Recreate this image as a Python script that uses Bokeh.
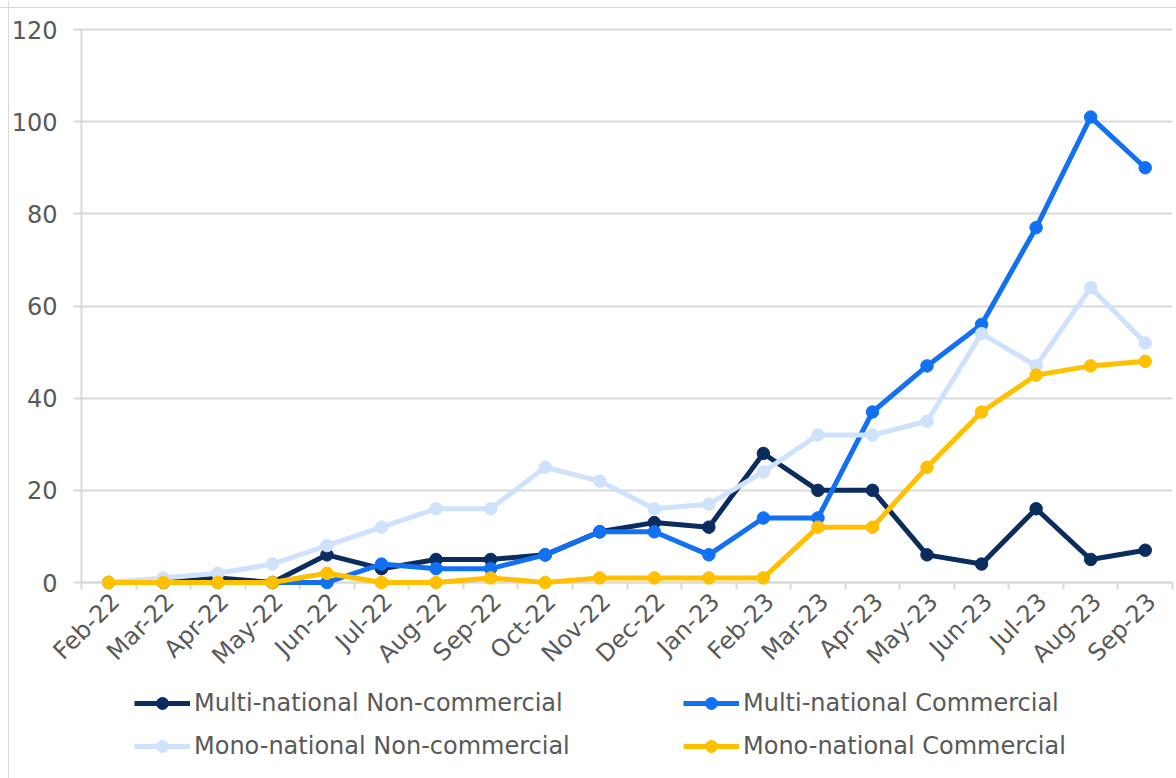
import math
from bokeh.plotting import figure
from bokeh.models import Range1d, FixedTicker, Legend, LegendItem, Span
from bokeh.embed import file_html
from bokeh.resources import INLINE

months = ["Feb-22", "Mar-22", "Apr-22", "May-22", "Jun-22", "Jul-22", "Aug-22", "Sep-22",
          "Oct-22", "Nov-22", "Dec-22", "Jan-23", "Feb-23", "Mar-23", "Apr-23", "May-23",
          "Jun-23", "Jul-23", "Aug-23", "Sep-23"]
multi_noncommercial = [0, 0, 1, 0, 6, 3, 5, 5, 6, 11, 13, 12, 28, 20, 20, 6, 4, 16, 5, 7]
multi_commercial = [0, 0, 0, 0, 0, 4, 3, 3, 6, 11, 11, 6, 14, 14, 37, 47, 56, 77, 101, 90]
mono_noncommercial = [0, 1, 2, 4, 8, 12, 16, 16, 25, 22, 16, 17, 24, 32, 32, 35, 54, 47, 64, 52]
mono_commercial = [0, 0, 0, 0, 2, 0, 0, 1, 0, 1, 1, 1, 1, 12, 12, 25, 37, 45, 47, 48]
y_ticks = [0, 20, 40, 60, 80, 100, 120]

series = [
    ("Multi-national Non-commercial", multi_noncommercial, "#0B2C5E"),
    ("Multi-national Commercial", multi_commercial, "#1271F2"),
    ("Mono-national Non-commercial", mono_noncommercial, "#CFE2FB"),
    ("Mono-national Commercial", mono_commercial, "#FFC000"),
]

FONT = "DejaVu Sans"
TEXT = "#595959"
GRID = "#d9d9d9"
FS = "24px"

W, H = 1176, 778
TOP, ZERO = 29, 582            # pixel rows of y=120 and y=0
LEFT, RIGHT = 81, 1172         # pixel columns of the category band edges
n = len(months)
y_top = 120
px_y = (ZERO - TOP) / y_top
y_min = -(H - ZERO) / px_y
y_max = y_top + TOP / px_y
px_x = (RIGHT - LEFT) / n
x_start = -0.5 - LEFT / px_x
x_end = n - 0.5 + (W - RIGHT) / px_x

x = list(range(n))
label_pos = [i + 0.12 for i in x]

p = figure(width=W, height=H, output_backend="svg", toolbar_location=None,
           x_range=Range1d(x_start, x_end), y_range=Range1d(y_min, y_max),
           min_border_left=0, min_border_right=0, min_border_top=0, min_border_bottom=0)
p.outline_line_color = None
p.background_fill_color = "white"

# chart-area border (left and top edges visible in the reference)
p.add_layout(Span(location=x_start + 8 / px_x, dimension="height", line_color=GRID,
                  line_width=1, level="underlay"))
p.add_layout(Span(location=y_max - 7 / px_y, dimension="width", line_color=GRID,
                  line_width=1, level="underlay"))

# x axis sits at y = 0 inside the frame
p.xaxis.fixed_location = 0
p.xaxis.level = "underlay"
p.xaxis.bounds = (-0.5, n - 0.5)
p.xaxis.ticker = FixedTicker(ticks=label_pos, minor_ticks=[i - 0.5 for i in range(n + 1)])
p.xaxis.major_label_overrides = {lp: m for lp, m in zip(label_pos, months)}
p.xaxis.major_label_orientation = math.pi / 4
p.xaxis.major_tick_line_color = None
p.xaxis.minor_tick_line_color = GRID
p.xaxis.minor_tick_line_width = 2
p.xaxis.minor_tick_out = 7
p.xaxis.minor_tick_in = 0
p.xaxis.axis_line_color = GRID
p.xaxis.axis_line_width = 2
p.xaxis.major_label_text_font = FONT
p.xaxis.major_label_text_font_size = FS
p.xaxis.major_label_text_color = TEXT
p.xaxis.major_label_standoff = 8

# y axis at the left edge of the category band; its long ticks act as gridlines
p.yaxis.fixed_location = -0.5
p.yaxis.level = "underlay"
p.yaxis.bounds = (0, y_top)
p.yaxis.ticker = FixedTicker(ticks=y_ticks)
p.yaxis.minor_tick_line_color = None
p.yaxis.major_tick_line_color = GRID
p.yaxis.major_tick_line_width = 2
p.yaxis.major_tick_out = 8
p.yaxis.major_tick_in = RIGHT - LEFT
p.yaxis.axis_line_color = GRID
p.yaxis.axis_line_width = 2
p.yaxis.major_label_text_font = FONT
p.yaxis.major_label_text_font_size = FS
p.yaxis.major_label_text_color = TEXT
p.yaxis.major_label_standoff = 16

p.xgrid.grid_line_color = None
p.ygrid.grid_line_color = None

items = []
for name, vals, col in series:
    ln = p.line(x, vals, line_color=col, line_width=5)
    sc = p.scatter(x, vals, size=12.5, fill_color=col, line_color=col)
    items.append(LegendItem(label=name, renderers=[ln, sc]))

def make_legend(its, xpos):
    return Legend(items=its, location=(xpos, 17), orientation="vertical",
                  glyph_width=56, glyph_height=30, label_height=20, label_standoff=4,
                  spacing=13, padding=0, margin=0, border_line_color=None,
                  background_fill_alpha=0,
                  label_text_font=FONT, label_text_font_size=FS, label_text_color=TEXT)

p.add_layout(make_legend([items[0], items[2]], 134))
p.add_layout(make_legend([items[1], items[3]], 683))

open("out.html", "w").write(file_html(p, INLINE))
